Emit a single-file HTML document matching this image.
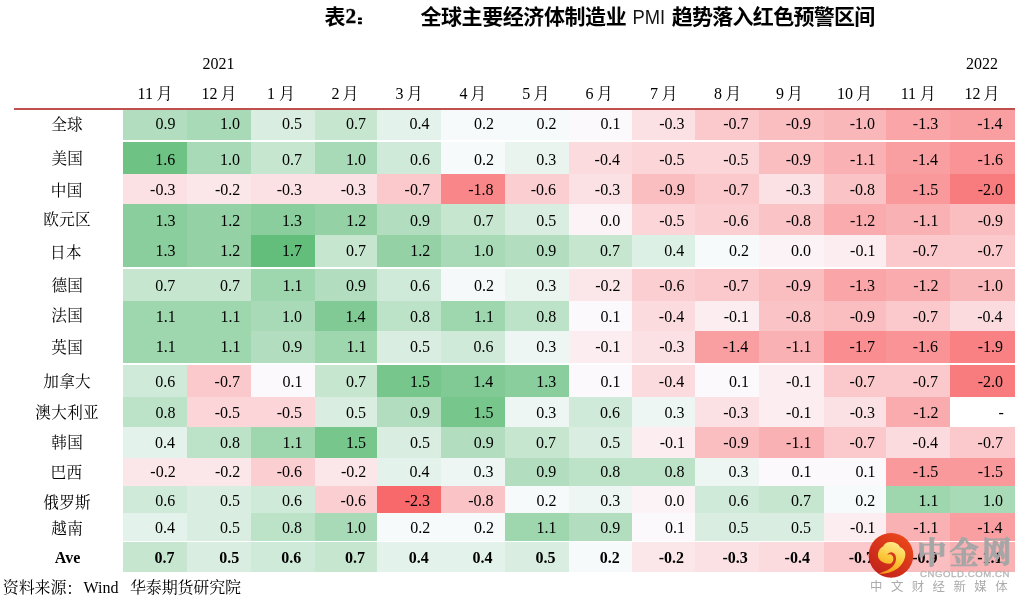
<!DOCTYPE html>
<html><head><meta charset="utf-8"><title>PMI heatmap</title>
<style>
html,body{margin:0;padding:0;background:#fff}
body{width:1025px;height:605px;position:relative;overflow:hidden;font-family:"Liberation Serif",serif;color:#000}
.c{position:absolute}
.n{position:absolute;width:60px;text-align:right;font:16px/20px "Liberation Serif",serif;white-space:nowrap}
.h{position:absolute;font:16px/20px "Liberation Serif",serif;white-space:nowrap}
.b{font-weight:bold}
.t2{position:absolute;font:bold 21.5px/24px "Liberation Serif",serif;-webkit-text-stroke:0.35px #000}
.ov{position:absolute;left:0;top:0}
#fg{position:absolute;left:0;top:0;width:1025px;height:605px;will-change:transform}
</style></head><body>
<div class="c" style="left:123px;top:110px;width:64px;height:30px;background:#B2DEBF"></div>
<div class="c" style="left:187px;top:110px;width:64px;height:30px;background:#A8DAB7"></div>
<div class="c" style="left:251px;top:110px;width:64px;height:30px;background:#D9EEE1"></div>
<div class="c" style="left:315px;top:110px;width:62px;height:30px;background:#C6E6D0"></div>
<div class="c" style="left:377px;top:110px;width:64px;height:30px;background:#E3F2EA"></div>
<div class="c" style="left:441px;top:110px;width:64px;height:30px;background:#F7FAFB"></div>
<div class="c" style="left:505px;top:110px;width:64px;height:30px;background:#F7FAFB"></div>
<div class="c" style="left:569px;top:110px;width:63px;height:30px;background:#FCF9FC"></div>
<div class="c" style="left:632px;top:110px;width:63px;height:30px;background:#FBE1E4"></div>
<div class="c" style="left:695px;top:110px;width:64px;height:30px;background:#FBC9CC"></div>
<div class="c" style="left:759px;top:110px;width:65px;height:30px;background:#FABDC0"></div>
<div class="c" style="left:824px;top:110px;width:62px;height:30px;background:#FAB7BA"></div>
<div class="c" style="left:886px;top:110px;width:64px;height:30px;background:#FAA5A7"></div>
<div class="c" style="left:950px;top:110px;width:65px;height:30px;background:#F99FA1"></div>
<div class="c" style="left:123px;top:142px;width:64px;height:32px;background:#6DC284"></div>
<div class="c" style="left:187px;top:142px;width:64px;height:32px;background:#A8DAB7"></div>
<div class="c" style="left:251px;top:142px;width:64px;height:32px;background:#C6E6D0"></div>
<div class="c" style="left:315px;top:142px;width:62px;height:32px;background:#A8DAB7"></div>
<div class="c" style="left:377px;top:142px;width:64px;height:32px;background:#D0EAD9"></div>
<div class="c" style="left:441px;top:142px;width:64px;height:32px;background:#F7FAFB"></div>
<div class="c" style="left:505px;top:142px;width:64px;height:32px;background:#E9F4EF"></div>
<div class="c" style="left:569px;top:142px;width:63px;height:32px;background:#FBDBDE"></div>
<div class="c" style="left:632px;top:142px;width:63px;height:32px;background:#FBD5D8"></div>
<div class="c" style="left:695px;top:142px;width:64px;height:32px;background:#FBD5D8"></div>
<div class="c" style="left:759px;top:142px;width:65px;height:32px;background:#FABDC0"></div>
<div class="c" style="left:824px;top:142px;width:62px;height:32px;background:#FAB1B3"></div>
<div class="c" style="left:886px;top:142px;width:64px;height:32px;background:#F99FA1"></div>
<div class="c" style="left:950px;top:142px;width:65px;height:32px;background:#F99395"></div>
<div class="c" style="left:123px;top:174px;width:64px;height:30px;background:#FBE1E4"></div>
<div class="c" style="left:187px;top:174px;width:64px;height:30px;background:#FBE7EA"></div>
<div class="c" style="left:251px;top:174px;width:64px;height:30px;background:#FBE1E4"></div>
<div class="c" style="left:315px;top:174px;width:62px;height:30px;background:#FBE1E4"></div>
<div class="c" style="left:377px;top:174px;width:64px;height:30px;background:#FBC9CC"></div>
<div class="c" style="left:441px;top:174px;width:64px;height:30px;background:#F98789"></div>
<div class="c" style="left:505px;top:174px;width:64px;height:30px;background:#FBCFD2"></div>
<div class="c" style="left:569px;top:174px;width:63px;height:30px;background:#FBE1E4"></div>
<div class="c" style="left:632px;top:174px;width:63px;height:30px;background:#FABDC0"></div>
<div class="c" style="left:695px;top:174px;width:64px;height:30px;background:#FBC9CC"></div>
<div class="c" style="left:759px;top:174px;width:65px;height:30px;background:#FBE1E4"></div>
<div class="c" style="left:824px;top:174px;width:62px;height:30px;background:#FAC3C6"></div>
<div class="c" style="left:886px;top:174px;width:64px;height:30px;background:#F9999B"></div>
<div class="c" style="left:950px;top:174px;width:65px;height:30px;background:#F87B7D"></div>
<div class="c" style="left:123px;top:204px;width:64px;height:31px;background:#8ACE9D"></div>
<div class="c" style="left:187px;top:204px;width:64px;height:31px;background:#94D2A6"></div>
<div class="c" style="left:251px;top:204px;width:64px;height:31px;background:#8ACE9D"></div>
<div class="c" style="left:315px;top:204px;width:62px;height:31px;background:#94D2A6"></div>
<div class="c" style="left:377px;top:204px;width:64px;height:31px;background:#B2DEBF"></div>
<div class="c" style="left:441px;top:204px;width:64px;height:31px;background:#C6E6D0"></div>
<div class="c" style="left:505px;top:204px;width:64px;height:31px;background:#D9EEE1"></div>
<div class="c" style="left:569px;top:204px;width:63px;height:31px;background:#FCF3F6"></div>
<div class="c" style="left:632px;top:204px;width:63px;height:31px;background:#FBD5D8"></div>
<div class="c" style="left:695px;top:204px;width:64px;height:31px;background:#FBCFD2"></div>
<div class="c" style="left:759px;top:204px;width:65px;height:31px;background:#FAC3C6"></div>
<div class="c" style="left:824px;top:204px;width:62px;height:31px;background:#FAABAD"></div>
<div class="c" style="left:886px;top:204px;width:64px;height:31px;background:#FAB1B3"></div>
<div class="c" style="left:950px;top:204px;width:65px;height:31px;background:#FABDC0"></div>
<div class="c" style="left:123px;top:235px;width:64px;height:32px;background:#8ACE9D"></div>
<div class="c" style="left:187px;top:235px;width:64px;height:32px;background:#94D2A6"></div>
<div class="c" style="left:251px;top:235px;width:64px;height:32px;background:#63BE7B"></div>
<div class="c" style="left:315px;top:235px;width:62px;height:32px;background:#C6E6D0"></div>
<div class="c" style="left:377px;top:235px;width:64px;height:32px;background:#94D2A6"></div>
<div class="c" style="left:441px;top:235px;width:64px;height:32px;background:#A8DAB7"></div>
<div class="c" style="left:505px;top:235px;width:64px;height:32px;background:#B2DEBF"></div>
<div class="c" style="left:569px;top:235px;width:63px;height:32px;background:#C6E6D0"></div>
<div class="c" style="left:632px;top:235px;width:63px;height:32px;background:#DDF0E5"></div>
<div class="c" style="left:695px;top:235px;width:64px;height:32px;background:#F7FAFB"></div>
<div class="c" style="left:759px;top:235px;width:65px;height:32px;background:#FCF3F6"></div>
<div class="c" style="left:824px;top:235px;width:62px;height:32px;background:#FCEDF0"></div>
<div class="c" style="left:886px;top:235px;width:64px;height:32px;background:#FBC9CC"></div>
<div class="c" style="left:950px;top:235px;width:65px;height:32px;background:#FBC9CC"></div>
<div class="c" style="left:123px;top:269px;width:64px;height:32px;background:#C6E6D0"></div>
<div class="c" style="left:187px;top:269px;width:64px;height:32px;background:#C6E6D0"></div>
<div class="c" style="left:251px;top:269px;width:64px;height:32px;background:#9ED6AE"></div>
<div class="c" style="left:315px;top:269px;width:62px;height:32px;background:#B2DEBF"></div>
<div class="c" style="left:377px;top:269px;width:64px;height:32px;background:#D0EAD9"></div>
<div class="c" style="left:441px;top:269px;width:64px;height:32px;background:#F5F9F9"></div>
<div class="c" style="left:505px;top:269px;width:64px;height:32px;background:#EAF5F0"></div>
<div class="c" style="left:569px;top:269px;width:63px;height:32px;background:#FBE7EA"></div>
<div class="c" style="left:632px;top:269px;width:63px;height:32px;background:#FBCFD2"></div>
<div class="c" style="left:695px;top:269px;width:64px;height:32px;background:#FBC9CC"></div>
<div class="c" style="left:759px;top:269px;width:65px;height:32px;background:#FABDC0"></div>
<div class="c" style="left:824px;top:269px;width:62px;height:32px;background:#FAA5A7"></div>
<div class="c" style="left:886px;top:269px;width:64px;height:32px;background:#FAABAD"></div>
<div class="c" style="left:950px;top:269px;width:65px;height:32px;background:#FAB7BA"></div>
<div class="c" style="left:123px;top:301px;width:64px;height:30px;background:#9ED6AE"></div>
<div class="c" style="left:187px;top:301px;width:64px;height:30px;background:#9ED6AE"></div>
<div class="c" style="left:251px;top:301px;width:64px;height:30px;background:#A8DAB7"></div>
<div class="c" style="left:315px;top:301px;width:62px;height:30px;background:#81CA95"></div>
<div class="c" style="left:377px;top:301px;width:64px;height:30px;background:#BCE2C8"></div>
<div class="c" style="left:441px;top:301px;width:64px;height:30px;background:#9ED6AE"></div>
<div class="c" style="left:505px;top:301px;width:64px;height:30px;background:#BCE2C8"></div>
<div class="c" style="left:569px;top:301px;width:63px;height:30px;background:#FCF9FC"></div>
<div class="c" style="left:632px;top:301px;width:63px;height:30px;background:#FBDBDE"></div>
<div class="c" style="left:695px;top:301px;width:64px;height:30px;background:#FCEDF0"></div>
<div class="c" style="left:759px;top:301px;width:65px;height:30px;background:#FAC3C6"></div>
<div class="c" style="left:824px;top:301px;width:62px;height:30px;background:#FABDC0"></div>
<div class="c" style="left:886px;top:301px;width:64px;height:30px;background:#FBC9CC"></div>
<div class="c" style="left:950px;top:301px;width:65px;height:30px;background:#FBDBDE"></div>
<div class="c" style="left:123px;top:331px;width:64px;height:32px;background:#9ED6AE"></div>
<div class="c" style="left:187px;top:331px;width:64px;height:32px;background:#9ED6AE"></div>
<div class="c" style="left:251px;top:331px;width:64px;height:32px;background:#B2DEBF"></div>
<div class="c" style="left:315px;top:331px;width:62px;height:32px;background:#9ED6AE"></div>
<div class="c" style="left:377px;top:331px;width:64px;height:32px;background:#D9EEE1"></div>
<div class="c" style="left:441px;top:331px;width:64px;height:32px;background:#D0EAD9"></div>
<div class="c" style="left:505px;top:331px;width:64px;height:32px;background:#EDF6F2"></div>
<div class="c" style="left:569px;top:331px;width:63px;height:32px;background:#FCEDF0"></div>
<div class="c" style="left:632px;top:331px;width:63px;height:32px;background:#FBE1E4"></div>
<div class="c" style="left:695px;top:331px;width:64px;height:32px;background:#F99FA1"></div>
<div class="c" style="left:759px;top:331px;width:65px;height:32px;background:#FAB1B3"></div>
<div class="c" style="left:824px;top:331px;width:62px;height:32px;background:#F98D8F"></div>
<div class="c" style="left:886px;top:331px;width:64px;height:32px;background:#F99395"></div>
<div class="c" style="left:950px;top:331px;width:65px;height:32px;background:#F98183"></div>
<div class="c" style="left:123px;top:365px;width:64px;height:32px;background:#D0EAD9"></div>
<div class="c" style="left:187px;top:365px;width:64px;height:32px;background:#FBC9CC"></div>
<div class="c" style="left:251px;top:365px;width:64px;height:32px;background:#FCF9FC"></div>
<div class="c" style="left:315px;top:365px;width:62px;height:32px;background:#C6E6D0"></div>
<div class="c" style="left:377px;top:365px;width:64px;height:32px;background:#77C68C"></div>
<div class="c" style="left:441px;top:365px;width:64px;height:32px;background:#81CA95"></div>
<div class="c" style="left:505px;top:365px;width:64px;height:32px;background:#8ACE9D"></div>
<div class="c" style="left:569px;top:365px;width:63px;height:32px;background:#FCF9FC"></div>
<div class="c" style="left:632px;top:365px;width:63px;height:32px;background:#FBDBDE"></div>
<div class="c" style="left:695px;top:365px;width:64px;height:32px;background:#FCF9FC"></div>
<div class="c" style="left:759px;top:365px;width:65px;height:32px;background:#FCEDF0"></div>
<div class="c" style="left:824px;top:365px;width:62px;height:32px;background:#FBC9CC"></div>
<div class="c" style="left:886px;top:365px;width:64px;height:32px;background:#FBC9CC"></div>
<div class="c" style="left:950px;top:365px;width:65px;height:32px;background:#F87B7D"></div>
<div class="c" style="left:123px;top:397px;width:64px;height:30px;background:#BCE2C8"></div>
<div class="c" style="left:187px;top:397px;width:64px;height:30px;background:#FBD5D8"></div>
<div class="c" style="left:251px;top:397px;width:64px;height:30px;background:#FBD5D8"></div>
<div class="c" style="left:315px;top:397px;width:62px;height:30px;background:#D9EEE1"></div>
<div class="c" style="left:377px;top:397px;width:64px;height:30px;background:#B2DEBF"></div>
<div class="c" style="left:441px;top:397px;width:64px;height:30px;background:#77C68C"></div>
<div class="c" style="left:505px;top:397px;width:64px;height:30px;background:#EDF6F2"></div>
<div class="c" style="left:569px;top:397px;width:63px;height:30px;background:#D0EAD9"></div>
<div class="c" style="left:632px;top:397px;width:63px;height:30px;background:#EDF6F2"></div>
<div class="c" style="left:695px;top:397px;width:64px;height:30px;background:#FBE1E4"></div>
<div class="c" style="left:759px;top:397px;width:65px;height:30px;background:#FCEDF0"></div>
<div class="c" style="left:824px;top:397px;width:62px;height:30px;background:#FBE1E4"></div>
<div class="c" style="left:886px;top:397px;width:64px;height:30px;background:#FAABAD"></div>
<div class="c" style="left:123px;top:427px;width:64px;height:31px;background:#E3F2EA"></div>
<div class="c" style="left:187px;top:427px;width:64px;height:31px;background:#BCE2C8"></div>
<div class="c" style="left:251px;top:427px;width:64px;height:31px;background:#9ED6AE"></div>
<div class="c" style="left:315px;top:427px;width:62px;height:31px;background:#77C68C"></div>
<div class="c" style="left:377px;top:427px;width:64px;height:31px;background:#D9EEE1"></div>
<div class="c" style="left:441px;top:427px;width:64px;height:31px;background:#B2DEBF"></div>
<div class="c" style="left:505px;top:427px;width:64px;height:31px;background:#C6E6D0"></div>
<div class="c" style="left:569px;top:427px;width:63px;height:31px;background:#D9EEE1"></div>
<div class="c" style="left:632px;top:427px;width:63px;height:31px;background:#FCEDF0"></div>
<div class="c" style="left:695px;top:427px;width:64px;height:31px;background:#FABDC0"></div>
<div class="c" style="left:759px;top:427px;width:65px;height:31px;background:#FAB1B3"></div>
<div class="c" style="left:824px;top:427px;width:62px;height:31px;background:#FBC9CC"></div>
<div class="c" style="left:886px;top:427px;width:64px;height:31px;background:#FBDBDE"></div>
<div class="c" style="left:950px;top:427px;width:65px;height:31px;background:#FBC9CC"></div>
<div class="c" style="left:123px;top:458px;width:64px;height:28px;background:#FBE7EA"></div>
<div class="c" style="left:187px;top:458px;width:64px;height:28px;background:#FBE7EA"></div>
<div class="c" style="left:251px;top:458px;width:64px;height:28px;background:#FBCFD2"></div>
<div class="c" style="left:315px;top:458px;width:62px;height:28px;background:#FBE7EA"></div>
<div class="c" style="left:377px;top:458px;width:64px;height:28px;background:#E3F2EA"></div>
<div class="c" style="left:441px;top:458px;width:64px;height:28px;background:#EDF6F2"></div>
<div class="c" style="left:505px;top:458px;width:64px;height:28px;background:#B2DEBF"></div>
<div class="c" style="left:569px;top:458px;width:63px;height:28px;background:#BCE2C8"></div>
<div class="c" style="left:632px;top:458px;width:63px;height:28px;background:#BCE2C8"></div>
<div class="c" style="left:695px;top:458px;width:64px;height:28px;background:#EDF6F2"></div>
<div class="c" style="left:759px;top:458px;width:65px;height:28px;background:#FCF9FC"></div>
<div class="c" style="left:824px;top:458px;width:62px;height:28px;background:#FCF9FC"></div>
<div class="c" style="left:886px;top:458px;width:64px;height:28px;background:#F9999B"></div>
<div class="c" style="left:950px;top:458px;width:65px;height:28px;background:#F9999B"></div>
<div class="c" style="left:123px;top:486px;width:64px;height:27px;background:#D0EAD9"></div>
<div class="c" style="left:187px;top:486px;width:64px;height:27px;background:#D9EEE1"></div>
<div class="c" style="left:251px;top:486px;width:64px;height:27px;background:#D0EAD9"></div>
<div class="c" style="left:315px;top:486px;width:62px;height:27px;background:#FBCFD2"></div>
<div class="c" style="left:377px;top:486px;width:64px;height:27px;background:#F8696B"></div>
<div class="c" style="left:441px;top:486px;width:64px;height:27px;background:#FAC3C6"></div>
<div class="c" style="left:505px;top:486px;width:64px;height:27px;background:#F7FAFB"></div>
<div class="c" style="left:569px;top:486px;width:63px;height:27px;background:#EDF6F2"></div>
<div class="c" style="left:632px;top:486px;width:63px;height:27px;background:#FCF3F6"></div>
<div class="c" style="left:695px;top:486px;width:64px;height:27px;background:#D0EAD9"></div>
<div class="c" style="left:759px;top:486px;width:65px;height:27px;background:#C6E6D0"></div>
<div class="c" style="left:824px;top:486px;width:62px;height:27px;background:#F7FAFB"></div>
<div class="c" style="left:886px;top:486px;width:64px;height:27px;background:#9ED6AE"></div>
<div class="c" style="left:950px;top:486px;width:65px;height:27px;background:#A8DAB7"></div>
<div class="c" style="left:123px;top:513px;width:64px;height:28px;background:#E3F2EA"></div>
<div class="c" style="left:187px;top:513px;width:64px;height:28px;background:#D9EEE1"></div>
<div class="c" style="left:251px;top:513px;width:64px;height:28px;background:#BCE2C8"></div>
<div class="c" style="left:315px;top:513px;width:62px;height:28px;background:#A8DAB7"></div>
<div class="c" style="left:377px;top:513px;width:64px;height:28px;background:#F6FAFA"></div>
<div class="c" style="left:441px;top:513px;width:64px;height:28px;background:#F6FAFA"></div>
<div class="c" style="left:505px;top:513px;width:64px;height:28px;background:#9ED6AE"></div>
<div class="c" style="left:569px;top:513px;width:63px;height:28px;background:#B2DEBF"></div>
<div class="c" style="left:632px;top:513px;width:63px;height:28px;background:#FCF9FC"></div>
<div class="c" style="left:695px;top:513px;width:64px;height:28px;background:#D9EEE1"></div>
<div class="c" style="left:759px;top:513px;width:65px;height:28px;background:#D9EEE1"></div>
<div class="c" style="left:824px;top:513px;width:62px;height:28px;background:#FCEDF0"></div>
<div class="c" style="left:886px;top:513px;width:64px;height:28px;background:#FAB1B3"></div>
<div class="c" style="left:950px;top:513px;width:65px;height:28px;background:#F99FA1"></div>
<div class="c" style="left:123px;top:542px;width:64px;height:30px;background:#C6E6D0"></div>
<div class="c" style="left:187px;top:542px;width:64px;height:30px;background:#D9EEE1"></div>
<div class="c" style="left:251px;top:542px;width:64px;height:30px;background:#D0EAD9"></div>
<div class="c" style="left:315px;top:542px;width:62px;height:30px;background:#C6E6D0"></div>
<div class="c" style="left:377px;top:542px;width:64px;height:30px;background:#E3F2EA"></div>
<div class="c" style="left:441px;top:542px;width:64px;height:30px;background:#E3F2EA"></div>
<div class="c" style="left:505px;top:542px;width:64px;height:30px;background:#D9EEE1"></div>
<div class="c" style="left:569px;top:542px;width:63px;height:30px;background:#F7FAFB"></div>
<div class="c" style="left:632px;top:542px;width:63px;height:30px;background:#FBE7EA"></div>
<div class="c" style="left:695px;top:542px;width:64px;height:30px;background:#FBE1E4"></div>
<div class="c" style="left:759px;top:542px;width:65px;height:30px;background:#FBDBDE"></div>
<div class="c" style="left:824px;top:542px;width:62px;height:30px;background:#FBC9CC"></div>
<div class="c" style="left:886px;top:542px;width:64px;height:30px;background:#FABDC0"></div>
<div class="c" style="left:950px;top:542px;width:65px;height:30px;background:#FAB1B3"></div>
<div class="c" style="left:14px;top:108px;width:1001px;height:2px;background:#C0504D"></div>
<div id="fg">
<div class="n" style="left:115.5px;top:113.60px">0.9</div>
<div class="n" style="left:180.0px;top:113.60px">1.0</div>
<div class="n" style="left:242.1px;top:113.60px">0.5</div>
<div class="n" style="left:305.9px;top:113.60px">0.7</div>
<div class="n" style="left:369.6px;top:113.60px">0.4</div>
<div class="n" style="left:433.9px;top:113.60px">0.2</div>
<div class="n" style="left:496.5px;top:113.60px">0.2</div>
<div class="n" style="left:560.6px;top:113.60px">0.1</div>
<div class="n" style="left:624.6px;top:113.60px">-0.3</div>
<div class="n" style="left:688.5px;top:113.60px">-0.7</div>
<div class="n" style="left:751.1px;top:113.60px">-0.9</div>
<div class="n" style="left:815.0px;top:113.60px">-1.0</div>
<div class="n" style="left:878.2px;top:113.60px">-1.3</div>
<div class="n" style="left:942.6px;top:113.60px">-1.4</div>
<div class="n" style="left:115.3px;top:149.60px">1.6</div>
<div class="n" style="left:180.0px;top:149.60px">1.0</div>
<div class="n" style="left:242.0px;top:149.60px">0.7</div>
<div class="n" style="left:306.0px;top:149.60px">1.0</div>
<div class="n" style="left:369.9px;top:149.60px">0.6</div>
<div class="n" style="left:433.9px;top:149.60px">0.2</div>
<div class="n" style="left:496.2px;top:149.60px">0.3</div>
<div class="n" style="left:559.9px;top:149.60px">-0.4</div>
<div class="n" style="left:624.6px;top:149.60px">-0.5</div>
<div class="n" style="left:688.6px;top:149.60px">-0.5</div>
<div class="n" style="left:751.1px;top:149.60px">-0.9</div>
<div class="n" style="left:815.4px;top:149.60px">-1.1</div>
<div class="n" style="left:877.9px;top:149.60px">-1.4</div>
<div class="n" style="left:942.9px;top:149.60px">-1.6</div>
<div class="n" style="left:115.4px;top:179.60px">-0.3</div>
<div class="n" style="left:180.3px;top:179.60px">-0.2</div>
<div class="n" style="left:242.1px;top:179.60px">-0.3</div>
<div class="n" style="left:306.0px;top:179.60px">-0.3</div>
<div class="n" style="left:369.9px;top:179.60px">-0.7</div>
<div class="n" style="left:433.6px;top:179.60px">-1.8</div>
<div class="n" style="left:496.1px;top:179.60px">-0.6</div>
<div class="n" style="left:560.2px;top:179.60px">-0.3</div>
<div class="n" style="left:624.7px;top:179.60px">-0.9</div>
<div class="n" style="left:688.5px;top:179.60px">-0.7</div>
<div class="n" style="left:751.0px;top:179.60px">-0.3</div>
<div class="n" style="left:815.0px;top:179.60px">-0.8</div>
<div class="n" style="left:878.2px;top:179.60px">-1.5</div>
<div class="n" style="left:943.0px;top:179.60px">-2.0</div>
<div class="n" style="left:115.4px;top:210.60px">1.3</div>
<div class="n" style="left:180.3px;top:210.60px">1.2</div>
<div class="n" style="left:242.1px;top:210.60px">1.3</div>
<div class="n" style="left:306.3px;top:210.60px">1.2</div>
<div class="n" style="left:370.1px;top:210.60px">0.9</div>
<div class="n" style="left:433.5px;top:210.60px">0.7</div>
<div class="n" style="left:496.2px;top:210.60px">0.5</div>
<div class="n" style="left:560.2px;top:210.60px">0.0</div>
<div class="n" style="left:624.6px;top:210.60px">-0.5</div>
<div class="n" style="left:688.5px;top:210.60px">-0.6</div>
<div class="n" style="left:751.0px;top:210.60px">-0.8</div>
<div class="n" style="left:815.3px;top:210.60px">-1.2</div>
<div class="n" style="left:878.6px;top:210.60px">-1.1</div>
<div class="n" style="left:943.1px;top:210.60px">-0.9</div>
<div class="n" style="left:115.4px;top:240.60px">1.3</div>
<div class="n" style="left:180.3px;top:240.60px">1.2</div>
<div class="n" style="left:242.0px;top:240.60px">1.7</div>
<div class="n" style="left:305.9px;top:240.60px">0.7</div>
<div class="n" style="left:370.3px;top:240.60px">1.2</div>
<div class="n" style="left:433.6px;top:240.60px">1.0</div>
<div class="n" style="left:496.3px;top:240.60px">0.9</div>
<div class="n" style="left:560.1px;top:240.60px">0.7</div>
<div class="n" style="left:624.2px;top:240.60px">0.4</div>
<div class="n" style="left:688.9px;top:240.60px">0.2</div>
<div class="n" style="left:751.0px;top:240.60px">0.0</div>
<div class="n" style="left:815.4px;top:240.60px">-0.1</div>
<div class="n" style="left:878.1px;top:240.60px">-0.7</div>
<div class="n" style="left:942.9px;top:240.60px">-0.7</div>
<div class="n" style="left:115.3px;top:275.60px">0.7</div>
<div class="n" style="left:179.9px;top:275.60px">0.7</div>
<div class="n" style="left:242.5px;top:275.60px">1.1</div>
<div class="n" style="left:306.1px;top:275.60px">0.9</div>
<div class="n" style="left:369.9px;top:275.60px">0.6</div>
<div class="n" style="left:433.9px;top:275.60px">0.2</div>
<div class="n" style="left:496.2px;top:275.60px">0.3</div>
<div class="n" style="left:560.5px;top:275.60px">-0.2</div>
<div class="n" style="left:624.5px;top:275.60px">-0.6</div>
<div class="n" style="left:688.5px;top:275.60px">-0.7</div>
<div class="n" style="left:751.1px;top:275.60px">-0.9</div>
<div class="n" style="left:815.0px;top:275.60px">-1.3</div>
<div class="n" style="left:878.5px;top:275.60px">-1.2</div>
<div class="n" style="left:943.0px;top:275.60px">-1.0</div>
<div class="n" style="left:115.8px;top:306.60px">1.1</div>
<div class="n" style="left:180.4px;top:306.60px">1.1</div>
<div class="n" style="left:242.1px;top:306.60px">1.0</div>
<div class="n" style="left:305.6px;top:306.60px">1.4</div>
<div class="n" style="left:370.0px;top:306.60px">0.8</div>
<div class="n" style="left:434.0px;top:306.60px">1.1</div>
<div class="n" style="left:496.2px;top:306.60px">0.8</div>
<div class="n" style="left:560.6px;top:306.60px">0.1</div>
<div class="n" style="left:624.2px;top:306.60px">-0.4</div>
<div class="n" style="left:689.0px;top:306.60px">-0.1</div>
<div class="n" style="left:751.0px;top:306.60px">-0.8</div>
<div class="n" style="left:815.1px;top:306.60px">-0.9</div>
<div class="n" style="left:878.1px;top:306.60px">-0.7</div>
<div class="n" style="left:942.6px;top:306.60px">-0.4</div>
<div class="n" style="left:115.8px;top:336.60px">1.1</div>
<div class="n" style="left:180.4px;top:336.60px">1.1</div>
<div class="n" style="left:242.2px;top:336.60px">0.9</div>
<div class="n" style="left:306.4px;top:336.60px">1.1</div>
<div class="n" style="left:370.0px;top:336.60px">0.5</div>
<div class="n" style="left:433.5px;top:336.60px">0.6</div>
<div class="n" style="left:496.2px;top:336.60px">0.3</div>
<div class="n" style="left:560.6px;top:336.60px">-0.1</div>
<div class="n" style="left:624.6px;top:336.60px">-0.3</div>
<div class="n" style="left:688.2px;top:336.60px">-1.4</div>
<div class="n" style="left:751.4px;top:336.60px">-1.1</div>
<div class="n" style="left:814.9px;top:336.60px">-1.7</div>
<div class="n" style="left:878.1px;top:336.60px">-1.6</div>
<div class="n" style="left:943.1px;top:336.60px">-1.9</div>
<div class="n" style="left:115.3px;top:371.60px">0.6</div>
<div class="n" style="left:179.9px;top:371.60px">-0.7</div>
<div class="n" style="left:242.5px;top:371.60px">0.1</div>
<div class="n" style="left:305.9px;top:371.60px">0.7</div>
<div class="n" style="left:370.0px;top:371.60px">1.5</div>
<div class="n" style="left:433.2px;top:371.60px">1.4</div>
<div class="n" style="left:496.2px;top:371.60px">1.3</div>
<div class="n" style="left:560.6px;top:371.60px">0.1</div>
<div class="n" style="left:624.2px;top:371.60px">-0.4</div>
<div class="n" style="left:689.0px;top:371.60px">0.1</div>
<div class="n" style="left:751.4px;top:371.60px">-0.1</div>
<div class="n" style="left:814.9px;top:371.60px">-0.7</div>
<div class="n" style="left:878.1px;top:371.60px">-0.7</div>
<div class="n" style="left:943.0px;top:371.60px">-2.0</div>
<div class="n" style="left:115.4px;top:402.60px">0.8</div>
<div class="n" style="left:180.0px;top:402.60px">-0.5</div>
<div class="n" style="left:242.1px;top:402.60px">-0.5</div>
<div class="n" style="left:306.0px;top:402.60px">0.5</div>
<div class="n" style="left:370.1px;top:402.60px">0.9</div>
<div class="n" style="left:433.6px;top:402.60px">1.5</div>
<div class="n" style="left:496.2px;top:402.60px">0.3</div>
<div class="n" style="left:560.1px;top:402.60px">0.6</div>
<div class="n" style="left:624.6px;top:402.60px">0.3</div>
<div class="n" style="left:688.6px;top:402.60px">-0.3</div>
<div class="n" style="left:751.4px;top:402.60px">-0.1</div>
<div class="n" style="left:815.0px;top:402.60px">-0.3</div>
<div class="n" style="left:878.5px;top:402.60px">-1.2</div>
<div class="n" style="left:943.8px;top:402.60px">-</div>
<div class="n" style="left:115.1px;top:432.60px">0.4</div>
<div class="n" style="left:180.0px;top:432.60px">0.8</div>
<div class="n" style="left:242.5px;top:432.60px">1.1</div>
<div class="n" style="left:306.0px;top:432.60px">1.5</div>
<div class="n" style="left:370.0px;top:432.60px">0.5</div>
<div class="n" style="left:433.7px;top:432.60px">0.9</div>
<div class="n" style="left:496.1px;top:432.60px">0.7</div>
<div class="n" style="left:560.2px;top:432.60px">0.5</div>
<div class="n" style="left:625.0px;top:432.60px">-0.1</div>
<div class="n" style="left:688.7px;top:432.60px">-0.9</div>
<div class="n" style="left:751.4px;top:432.60px">-1.1</div>
<div class="n" style="left:814.9px;top:432.60px">-0.7</div>
<div class="n" style="left:877.9px;top:432.60px">-0.4</div>
<div class="n" style="left:942.9px;top:432.60px">-0.7</div>
<div class="n" style="left:115.7px;top:461.60px">-0.2</div>
<div class="n" style="left:180.3px;top:461.60px">-0.2</div>
<div class="n" style="left:242.0px;top:461.60px">-0.6</div>
<div class="n" style="left:306.3px;top:461.60px">-0.2</div>
<div class="n" style="left:369.6px;top:461.60px">0.4</div>
<div class="n" style="left:433.6px;top:461.60px">0.3</div>
<div class="n" style="left:496.3px;top:461.60px">0.9</div>
<div class="n" style="left:560.2px;top:461.60px">0.8</div>
<div class="n" style="left:624.6px;top:461.60px">0.8</div>
<div class="n" style="left:688.6px;top:461.60px">0.3</div>
<div class="n" style="left:751.4px;top:461.60px">0.1</div>
<div class="n" style="left:815.4px;top:461.60px">0.1</div>
<div class="n" style="left:878.2px;top:461.60px">-1.5</div>
<div class="n" style="left:943.0px;top:461.60px">-1.5</div>
<div class="n" style="left:115.3px;top:490.60px">0.6</div>
<div class="n" style="left:180.0px;top:490.60px">0.5</div>
<div class="n" style="left:242.0px;top:490.60px">0.6</div>
<div class="n" style="left:305.9px;top:490.60px">-0.6</div>
<div class="n" style="left:370.0px;top:490.60px">-2.3</div>
<div class="n" style="left:433.6px;top:490.60px">-0.8</div>
<div class="n" style="left:496.5px;top:490.60px">0.2</div>
<div class="n" style="left:560.2px;top:490.60px">0.3</div>
<div class="n" style="left:624.6px;top:490.60px">0.0</div>
<div class="n" style="left:688.5px;top:490.60px">0.6</div>
<div class="n" style="left:750.9px;top:490.60px">0.7</div>
<div class="n" style="left:815.3px;top:490.60px">0.2</div>
<div class="n" style="left:878.6px;top:490.60px">1.1</div>
<div class="n" style="left:943.0px;top:490.60px">1.0</div>
<div class="n" style="left:115.1px;top:517.80px">0.4</div>
<div class="n" style="left:180.0px;top:517.80px">0.5</div>
<div class="n" style="left:242.1px;top:517.80px">0.8</div>
<div class="n" style="left:306.0px;top:517.80px">1.0</div>
<div class="n" style="left:370.3px;top:517.80px">0.2</div>
<div class="n" style="left:433.9px;top:517.80px">0.2</div>
<div class="n" style="left:496.6px;top:517.80px">1.1</div>
<div class="n" style="left:560.3px;top:517.80px">0.9</div>
<div class="n" style="left:625.0px;top:517.80px">0.1</div>
<div class="n" style="left:688.6px;top:517.80px">0.5</div>
<div class="n" style="left:751.0px;top:517.80px">0.5</div>
<div class="n" style="left:815.4px;top:517.80px">-0.1</div>
<div class="n" style="left:878.6px;top:517.80px">-1.1</div>
<div class="n" style="left:942.6px;top:517.80px">-1.4</div>
<div class="n b" style="left:114.5px;top:547.60px">0.7</div>
<div class="n b" style="left:179.2px;top:547.60px">0.5</div>
<div class="n b" style="left:241.2px;top:547.60px">0.6</div>
<div class="n b" style="left:305.1px;top:547.60px">0.7</div>
<div class="n b" style="left:368.8px;top:547.60px">0.4</div>
<div class="n b" style="left:432.4px;top:547.60px">0.4</div>
<div class="n b" style="left:495.4px;top:547.60px">0.5</div>
<div class="n b" style="left:559.7px;top:547.60px">0.2</div>
<div class="n b" style="left:624.1px;top:547.60px">-0.2</div>
<div class="n b" style="left:687.8px;top:547.60px">-0.3</div>
<div class="n b" style="left:749.9px;top:547.60px">-0.4</div>
<div class="n b" style="left:814.1px;top:547.60px">-0.7</div>
<div class="n b" style="left:877.5px;top:547.60px">-0.9</div>
<div class="n b" style="left:942.6px;top:547.60px">-1.1</div>
<div class="n b" style="left:37.5px;top:547.60px;width:60px;text-align:center">Ave</div>
<div class="h" style="left:137.5px;top:83.60px">11</div>
<div class="h" style="left:201.5px;top:83.60px">12</div>
<div class="h" style="left:267.1px;top:83.60px">1</div>
<div class="h" style="left:331.4px;top:83.60px">2</div>
<div class="h" style="left:395.4px;top:83.60px">3</div>
<div class="h" style="left:459.4px;top:83.60px">4</div>
<div class="h" style="left:522.2px;top:83.60px">5</div>
<div class="h" style="left:585.6px;top:83.60px">6</div>
<div class="h" style="left:650.0px;top:83.60px">7</div>
<div class="h" style="left:714.1px;top:83.60px">8</div>
<div class="h" style="left:776.1px;top:83.60px">9</div>
<div class="h" style="left:837.1px;top:83.60px">10</div>
<div class="h" style="left:900.7px;top:83.60px">11</div>
<div class="h" style="left:964.5px;top:83.60px">12</div>
<div class="h" style="left:188.5px;top:53.60px;width:60px;text-align:center">2021</div>
<div class="h" style="left:952.0px;top:53.60px;width:60px;text-align:center">2022</div>
<div class="t2" style="left:345.5px;top:4.1px">2</div>
<div class="h" style="left:83.6px;top:577.60px">Wind</div>
<svg class="ov" width="1025" height="605" viewBox="0 0 1025 605"><defs><linearGradient id="lgR" x1="0.8" y1="0.1" x2="0.2" y2="0.9"><stop offset="0" stop-color="#E9461A"/><stop offset="1" stop-color="#C4231B"/></linearGradient><linearGradient id="lgY" x1="0.6" y1="0" x2="0.3" y2="1"><stop offset="0" stop-color="#FFEA8A"/><stop offset="0.55" stop-color="#FBC536"/><stop offset="1" stop-color="#F59A17"/></linearGradient></defs>
<g font-family="'Liberation Serif', 'Noto Serif CJK SC', serif" font-size="15.6" fill="#000" letter-spacing="0.3">
<text x="51.20" y="130.19">全球</text>
<text x="51.41" y="163.64">美国</text>
<text x="50.86" y="195.93">中国</text>
<text x="43.26" y="225.32">欧元区</text>
<text x="50.00" y="257.55">日本</text>
<text x="51.45" y="290.83">德国</text>
<text x="51.35" y="321.41">法国</text>
<text x="51.36" y="352.81">英国</text>
<text x="43.31" y="387.24">加拿大</text>
<text x="35.37" y="417.93">澳大利亚</text>
<text x="51.37" y="447.63">韩国</text>
<text x="50.54" y="478.38">巴西</text>
<text x="43.26" y="508.11">俄罗斯</text>
<text x="51.35" y="533.85">越南</text>
</g>
<g font-family="'Liberation Serif', 'Noto Serif CJK SC', serif" font-size="16" fill="#000">
<text x="156.58" y="98.80">月</text>
<text x="220.58" y="98.80">月</text>
<text x="278.98" y="98.80">月</text>
<text x="342.58" y="98.80">月</text>
<text x="406.68" y="98.80">月</text>
<text x="470.18" y="98.80">月</text>
<text x="533.58" y="98.80">月</text>
<text x="596.78" y="98.80">月</text>
<text x="661.48" y="98.80">月</text>
<text x="725.18" y="98.80">月</text>
<text x="787.08" y="98.80">月</text>
<text x="856.18" y="98.80">月</text>
<text x="919.78" y="98.80">月</text>
<text x="983.58" y="98.80">月</text>
</g>
<text x="324.40" y="24.24" font-family="'Liberation Sans', 'Noto Sans CJK SC', sans-serif" font-size="21" font-weight="bold" fill="#000">表</text>
<g><title>：</title><rect x="358" y="17.4" width="3.9" height="2.7" rx="0.5"/><rect x="358" y="21.5" width="3.9" height="2.7" rx="0.5"/></g>
<text x="420.40" y="24.31" font-family="'Liberation Sans', 'Noto Sans CJK SC', sans-serif" font-size="21" font-weight="bold" fill="#000" textLength="206.3" lengthAdjust="spacing">全球主要经济体制造业</text>
<text x="632.6" y="24.1" font-family="Liberation Sans, sans-serif" font-size="20.9" fill="#111" textLength="32.6" lengthAdjust="spacingAndGlyphs">PMI</text>
<text x="671.70" y="24.24" font-family="'Liberation Sans', 'Noto Sans CJK SC', sans-serif" font-size="21" font-weight="bold" fill="#000" textLength="203.6" lengthAdjust="spacing">趋势落入红色预警区间</text>
<text x="2.86" y="593.14" font-family="'Liberation Serif', 'Noto Serif CJK SC', serif" font-size="16" fill="#000" textLength="63.6" lengthAdjust="spacing">资料来源</text>
<text x="66.29" y="593.73" font-family="'Liberation Serif', 'Noto Serif CJK SC', serif" font-size="16" fill="#000">：</text>
<text x="129.98" y="593.17" font-family="'Liberation Serif', 'Noto Serif CJK SC', serif" font-size="16" fill="#000" textLength="111" lengthAdjust="spacing">华泰期货研究院</text>
<g transform="translate(862 528) scale(0.09259)">
<circle cx="313" cy="295" r="241" fill="url(#lgR)"/>
<path fill="url(#lgY)" d="M183 493 C240 499 322 480 388 434 C438 394 471 332 468 275 C466 243 446 218 410 204 C400 172 355 150 305 150 C268 150 238 168 228 200 C194 215 172 252 172 295 C174 345 215 382 300 387 C318 386 332 370 338 345 C342 318 335 298 312 287 C298 281 283 284 273 293 C280 272 305 258 328 264 C358 272 370 305 367 340 C362 390 325 436 255 465 C230 475 205 485 183 493 Z"/>
</g>
<g font-family="'Liberation Serif', 'Noto Serif CJK SC', serif" font-size="29.2" font-weight="bold" fill="#a6a6a6" stroke="#a6a6a6" stroke-width="0.9" stroke-linejoin="round">
<text x="917.29" y="562.58">中</text>
<text x="949.53" y="563.19">金</text>
<text x="982.18" y="562.36">网</text>
</g>
<text x="920.1" y="577.2" font-family="Liberation Sans, sans-serif" font-size="9.6" fill="#b6b6b6" stroke="#b6b6b6" stroke-width="0.3" textLength="89.3" lengthAdjust="spacing">CNGOLD.COM.CN</text>
<text x="870.11 890.95 911.78 932.62 953.46 974.30 995.13" y="591.31" font-family="'Liberation Sans', 'Noto Sans CJK SC', sans-serif" font-size="12.4" fill="#ababab">中文财经新媒体</text>
</svg>
</div>
</body></html>
